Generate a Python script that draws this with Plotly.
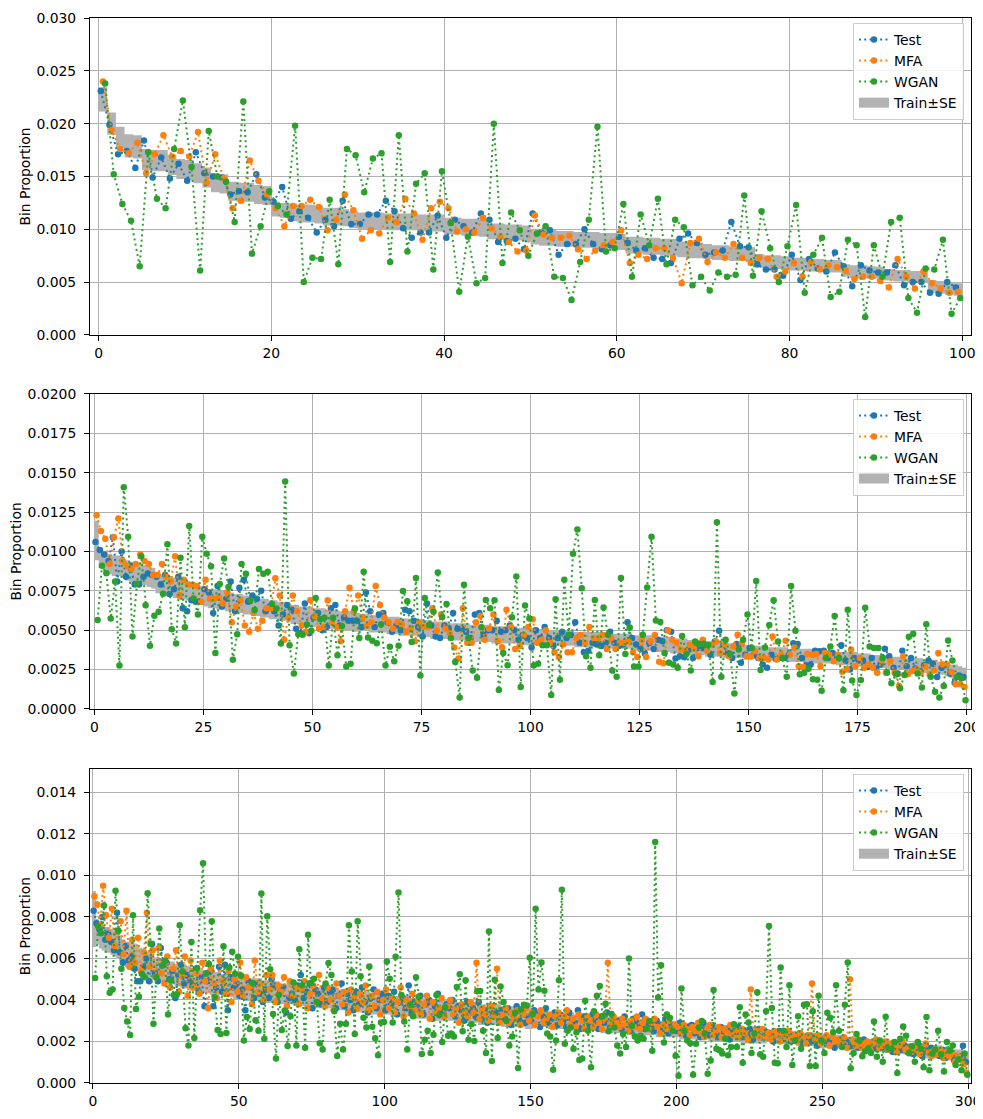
import plotly.graph_objects as go

SCALE = 1e-3  # all values below are in units of 1e-3

# ---------------- Panel 1 (100 bins) ----------------
train1 = [22.3, 20.0, 18.7, 17.9, 17.8, 16.6, 16.5, 16.5, 16.1, 15.7,
          15.6, 15.3, 14.9, 14.4, 14.3, 13.6, 13.5, 13.5, 13.3, 13.2,
          11.9, 11.8, 11.6, 11.5, 11.5, 11.4, 11.2, 11.2, 11.1, 10.9,
          10.8, 10.8, 10.8, 10.7, 10.7, 10.7, 10.7, 10.6, 10.6, 10.6,
          10.3, 10.3, 10.2, 10.2, 10.1, 9.8, 9.8, 9.7, 9.7, 9.6,
          9.3, 9.2, 9.2, 9.1, 9.1, 9.0, 9.0, 9.0, 8.9, 8.9,
          8.8, 8.5, 8.5, 8.4, 8.4, 8.3, 8.3, 8.1, 8.0, 8.0,
          7.9, 7.8, 7.8, 7.7, 7.7, 7.6, 7.0, 6.9, 6.9, 6.8,
          6.7, 6.7, 6.6, 6.6, 6.5, 6.5, 6.1, 6.0, 6.0, 5.9,
          5.9, 5.7, 5.6, 5.6, 5.5, 5.5, 4.6, 4.5, 4.4, 4.3]
se1 = [1.15, 1.05, 1.0, 1.1, 1.1, 1.0, 1.0, 1.0, 0.95, 0.95,
       0.95, 0.95, 0.95, 0.9, 0.9, 0.9, 0.9, 0.9, 0.9, 0.9,
       0.7, 0.7, 0.85, 0.85, 0.85, 0.85, 0.85, 0.85, 0.8, 0.8,
       0.8, 0.8, 0.8, 0.8, 0.8, 0.8, 0.8, 0.8, 0.8, 0.8,
       0.8, 0.8, 0.8, 0.8, 0.8, 0.75, 0.75, 0.75, 0.75, 0.75,
       0.75, 0.75, 0.75, 0.75, 0.75, 0.75, 0.75, 0.75, 0.75, 0.75,
       0.75, 0.8, 0.8, 0.8, 0.8, 0.8, 0.8, 0.75, 0.75, 0.75,
       0.7, 0.7, 0.7, 0.7, 0.7, 0.7, 0.65, 0.65, 0.65, 0.65,
       0.6, 0.6, 0.6, 0.6, 0.6, 0.6, 0.6, 0.6, 0.6, 0.6,
       0.55, 0.55, 0.55, 0.55, 0.55, 0.55, 0.6, 0.6, 0.6, 0.6]
test1 = [23.1, 19.9, 17.1, 17.4, 15.8, 18.4, 14.9, 16.8, 14.8, 16.2,
         14.6, 17.3, 15.3, 15.0, 14.9, 13.3, 13.6, 13.5, 15.2, 13.0,
         12.6, 14.0, 11.0, 11.7, 11.1, 9.7, 10.9, 10.3, 12.7, 10.5,
         10.5, 11.4, 11.4, 12.7, 11.7, 10.1, 9.2, 9.7, 9.7, 11.3,
         9.2, 10.9, 10.3, 9.7, 11.5, 10.9, 8.8, 8.9, 9.1, 8.1,
         11.5, 9.7, 9.9, 7.6, 8.6, 8.6, 10.0, 8.6, 8.1, 8.5,
         9.3, 8.7, 8.0, 8.2, 7.3, 7.2, 6.8, 9.1, 9.6, 8.7,
         7.6, 7.8, 8.0, 10.7, 8.4, 8.3, 6.7, 6.2, 6.2, 5.6,
         7.6, 5.2, 7.2, 6.3, 6.0, 7.8, 6.5, 4.6, 6.6, 6.1,
         5.9, 5.9, 6.6, 4.7, 5.0, 5.0, 4.0, 3.9, 5.0, 4.5]
mfa1 = [24.0, 19.4, 17.6, 17.2, 18.2, 15.3, 17.1, 18.9, 16.9, 17.4,
        16.9, 19.2, 14.4, 17.1, 14.8, 12.0, 12.7, 16.5, 14.6, 13.3,
        12.0, 10.3, 12.2, 12.2, 12.8, 12.1, 9.9, 10.9, 13.3, 11.8,
        9.1, 9.9, 9.6, 11.1, 10.7, 12.9, 11.5, 9.0, 12.0, 12.6,
        12.0, 9.8, 10.0, 9.7, 11.1, 10.1, 9.3, 8.8, 7.9, 8.0,
        11.3, 9.5, 9.2, 9.2, 9.4, 8.1, 7.2, 8.0, 8.5, 8.8,
        9.9, 6.8, 7.6, 7.2, 8.2, 8.2, 7.3, 4.9, 8.7, 9.1,
        6.9, 7.8, 7.3, 8.6, 7.3, 6.8, 7.3, 7.2, 5.5, 6.0,
        6.8, 5.5, 6.9, 6.2, 6.6, 6.4, 6.1, 5.3, 5.5, 5.5,
        5.1, 4.5, 7.2, 5.5, 4.4, 6.0, 4.9, 4.4, 4.0, 4.1]
wgan1 = [23.8, 15.2, 12.4, 10.8, 6.5, 17.3, 12.9, 12.0, 17.6, 22.2,
         15.9, 6.1, 19.3, 15.0, 14.5, 10.7, 22.1, 7.7, 10.3, 13.6,
         12.2, 11.4, 19.8, 5.0, 7.3, 7.2, 12.8, 6.7, 17.6, 17.0,
         13.5, 16.7, 17.2, 6.9, 18.9, 7.9, 14.3, 15.3, 6.2, 15.5,
         10.6, 4.1, 9.3, 4.9, 5.4, 20.0, 6.8, 11.6, 9.9, 7.5,
         9.6, 10.3, 5.5, 5.4, 3.3, 6.9, 10.9, 19.7, 7.9, 8.2,
         12.4, 5.5, 11.4, 8.5, 12.9, 6.7, 10.9, 10.2, 4.7, 5.5,
         4.2, 5.9, 5.5, 5.7, 13.2, 5.6, 11.7, 8.2, 5.0, 8.4,
         12.3, 4.0, 7.6, 9.2, 3.6, 4.1, 9.0, 8.5, 1.7, 8.5,
         5.5, 10.7, 11.1, 3.5, 2.1, 6.3, 6.2, 9.0, 2.0, 3.5]

# ---------------- Panel 2 (200 bins) ----------------
train2 = [10.7, 9.6, 9.4, 9.2, 9.1, 9.1, 9.0, 8.8, 8.7, 8.6,
          8.6, 8.5, 8.4, 8.3, 8.0, 7.9, 7.8, 7.8, 7.7, 7.6,
          7.6, 7.5, 7.4, 7.3, 7.2, 7.1, 7.0, 7.0, 6.9, 6.9,
          6.8, 6.8, 6.7, 6.7, 6.6, 6.6, 6.5, 6.5, 6.4, 6.4,
          6.3, 6.3, 6.2, 6.2, 6.1, 6.0, 6.0, 5.9, 5.9, 5.9,
          5.8, 5.8, 5.8, 5.7, 5.7, 5.7, 5.6, 5.6, 5.6, 5.5,
          5.5, 5.5, 5.5, 5.4, 5.4, 5.4, 5.4, 5.3, 5.3, 5.3,
          5.2, 5.2, 5.2, 5.2, 5.1, 5.1, 5.1, 5.0, 5.0, 5.0,
          5.0, 4.9, 4.9, 4.9, 4.9, 4.9, 4.8, 4.8, 4.8, 4.8,
          4.8, 4.7, 4.7, 4.7, 4.7, 4.7, 4.7, 4.6, 4.6, 4.6,
          4.6, 4.6, 4.6, 4.5, 4.5, 4.5, 4.5, 4.5, 4.5, 4.5,
          4.4, 4.4, 4.4, 4.4, 4.4, 4.4, 4.4, 4.3, 4.3, 4.3,
          4.3, 4.3, 4.3, 4.2, 4.2, 4.2, 4.2, 4.2, 4.1, 4.1,
          4.1, 4.1, 4.0, 4.0, 4.0, 4.0, 3.9, 3.9, 3.9, 3.9,
          3.8, 3.8, 3.8, 3.8, 3.7, 3.7, 3.7, 3.7, 3.7, 3.6,
          3.6, 3.6, 3.6, 3.6, 3.5, 3.5, 3.5, 3.5, 3.5, 3.4,
          3.4, 3.4, 3.4, 3.4, 3.4, 3.3, 3.3, 3.3, 3.3, 3.3,
          3.2, 3.2, 3.2, 3.2, 3.2, 3.1, 3.1, 3.1, 3.0, 3.0,
          3.0, 3.0, 2.9, 2.9, 2.9, 2.9, 2.8, 2.8, 2.8, 2.8,
          2.7, 2.7, 2.7, 2.6, 2.6, 2.5, 2.4, 2.4, 2.3, 2.2]
se2 = [1.25, 0.65, 0.65, 0.65, 0.65, 0.65, 0.65, 0.65, 0.65, 0.65,
       0.65, 0.65, 0.65, 0.65, 0.65, 0.65, 0.65, 0.65, 0.65, 0.65,
       0.65, 0.6, 0.6, 0.6, 0.6, 0.6, 0.6, 0.6, 0.6, 0.6,
       0.6, 0.6, 0.6, 0.6, 0.6, 0.6, 0.6, 0.6, 0.6, 0.6,
       0.6, 0.6, 0.6, 0.6, 0.6, 0.6, 0.6, 0.6, 0.6, 0.6,
       0.6, 0.6, 0.6, 0.6, 0.6, 0.6, 0.6, 0.6, 0.6, 0.6,
       0.6, 0.55, 0.55, 0.55, 0.55, 0.55, 0.55, 0.55, 0.55, 0.55,
       0.55, 0.55, 0.55, 0.55, 0.55, 0.55, 0.55, 0.55, 0.55, 0.55,
       0.55, 0.55, 0.55, 0.55, 0.55, 0.55, 0.55, 0.55, 0.55, 0.55,
       0.55, 0.55, 0.55, 0.55, 0.55, 0.55, 0.55, 0.55, 0.55, 0.55,
       0.55, 0.48, 0.48, 0.48, 0.48, 0.48, 0.48, 0.48, 0.48, 0.48,
       0.48, 0.48, 0.48, 0.48, 0.48, 0.48, 0.48, 0.48, 0.48, 0.48,
       0.48, 0.48, 0.48, 0.48, 0.48, 0.48, 0.48, 0.48, 0.48, 0.48,
       0.48, 0.48, 0.48, 0.48, 0.48, 0.48, 0.48, 0.48, 0.48, 0.48,
       0.48, 0.48, 0.48, 0.48, 0.48, 0.48, 0.48, 0.48, 0.48, 0.48,
       0.48, 0.42, 0.42, 0.42, 0.42, 0.42, 0.42, 0.42, 0.42, 0.42,
       0.42, 0.42, 0.42, 0.42, 0.42, 0.42, 0.42, 0.42, 0.42, 0.42,
       0.42, 0.42, 0.42, 0.42, 0.42, 0.42, 0.42, 0.42, 0.42, 0.42,
       0.42, 0.42, 0.42, 0.42, 0.42, 0.42, 0.42, 0.42, 0.42, 0.42,
       0.42, 0.42, 0.42, 0.42, 0.42, 0.42, 0.42, 0.42, 0.42, 0.42]
test2 = [10.6, 10.1, 9.8, 9.4, 10.9, 8.1, 10.0, 8.4, 9.1, 7.9,
         7.9, 8.4, 8.6, 8.5, 8.4, 7.9, 8.5, 7.3, 7.6, 8.4,
         6.4, 6.2, 6.9, 6.8, 6.8, 7.6, 7.4, 6.1, 7.8, 6.5,
         7.0, 8.1, 6.2, 7.7, 8.2, 6.8, 7.2, 7.0, 7.5, 6.2,
         6.5, 6.2, 5.3, 6.0, 6.6, 6.3, 5.1, 4.8, 6.7, 4.8,
         5.8, 6.1, 5.0, 5.2, 6.4, 6.6, 5.3, 5.8, 5.6, 5.6,
         5.6, 5.2, 7.4, 6.2, 5.2, 6.0, 6.1, 5.5,
         4.9, 5.3, 5.0, 6.3, 6.2, 5.6, 5.2, 4.6, 6.7, 5.3,
         4.6, 4.5, 5.3, 5.1, 6.1, 5.1, 5.1, 4.9, 4.5, 6.0,
         6.1, 4.7, 5.0, 5.0, 5.6, 4.9, 5.0, 5.3, 5.0, 4.4,
         4.7, 4.5, 3.9, 5.0, 4.5, 5.2, 4.5, 4.0, 4.5, 4.9,
         4.5, 4.7, 5.5, 4.2, 3.6, 3.7, 4.2, 4.1, 4.0, 4.2,
         4.9, 4.2, 4.0, 4.1, 5.5, 4.5, 4.1, 3.8, 3.5, 4.2,
         3.8, 4.4, 4.3, 5.0, 4.9, 3.2,
         3.35, 3.28, 3.77, 3.24, 3.87, 3.87, 3.81, 3.45, 4.29, 4.96,
         4.08, 3.56, 3.24, 4.12, 2.93, 3.45, 3.87, 3.45, 3.24, 2.82,
         2.62, 3.45, 3.18, 3.28, 3.24, 3.45, 4.18, 4.12, 3.24, 2.78,
         2.82, 3.70, 3.66, 3.70, 3.24, 3.56, 3.24, 4.04, 3.08, 2.51,
         3.24, 3.08, 3.08, 2.66, 3.24, 2.57, 2.82, 3.83, 3.35, 2.62,
         2.24, 3.70, 2.72, 3.24, 2.57, 2.41, 2.78, 3.08, 2.87, 2.03,
         2.62, 2.78, 2.24, 1.67, 2.13, 2.03]
mfa2 = [12.3, 11.3, 10.8, 9.2, 10.9, 12.1, 9.4, 9.1, 8.9, 9.2,
        9.8, 9.4, 9.2, 8.5, 8.5, 9.2, 8.4, 8.1, 9.7, 7.2,
        8.2, 7.9, 7.9, 7.8, 6.8, 8.2, 7.0, 7.0, 7.1, 6.7,
        7.4, 5.5, 6.5, 6.9, 5.3, 4.9, 6.1, 5.1, 5.6, 6.4,
        6.4, 8.3, 7.2, 4.4, 5.8, 7.2, 6.2, 5.3, 4.9, 6.9,
        5.9, 5.1, 5.2, 6.9, 5.5, 5.2, 4.3, 6.2, 7.7, 6.2,
        7.2, 5.8, 5.3, 5.5, 7.8, 6.6, 5.8, 5.5,
        5.1, 5.5, 5.4, 4.9, 5.1, 4.3, 5.5, 5.2, 5.2, 6.4,
        5.0, 6.0, 5.1, 4.8, 3.9, 3.2, 6.4, 4.2, 4.2, 5.5,
        5.9, 4.4, 5.1, 6.0, 4.3, 3.9, 6.3, 5.2, 3.8, 4.0,
        4.7, 5.2, 5.7, 4.2, 4.4, 5.0, 4.2, 3.6, 3.3, 4.1,
        3.6, 3.6, 4.5, 4.7, 4.2, 5.2, 4.5, 4.5, 4.7, 3.8,
        4.5, 3.8, 4.2, 4.2, 4.3, 3.6, 3.3, 4.4, 3.3, 4.3,
        4.7, 3.0, 2.9, 5.0, 4.4, 4.2,
        3.77, 3.70, 4.08, 3.83, 3.35, 4.39, 3.70, 4.08, 4.29, 3.56,
        4.12, 3.35, 3.97, 4.71, 4.18, 3.35, 3.35, 3.66, 3.24, 3.24,
        3.14, 4.60, 3.14, 3.45, 4.33, 3.45, 3.91, 2.72, 2.66, 3.49,
        3.45, 3.49, 2.72, 3.56, 3.45, 3.03, 3.45, 2.36, 2.51, 3.77,
        2.72, 3.24, 2.62, 2.82, 2.62, 2.30, 3.08, 2.30, 3.03, 2.30,
        1.46, 3.35, 2.20, 2.41, 2.51, 2.30, 2.72, 2.20, 2.45, 3.56,
        2.82, 2.82, 2.34, 1.57, 1.57, 1.40]
wgan2 = [5.65, 9.10, 8.62, 5.75, 8.10, 2.76, 14.08, 10.94, 4.60, 7.95,
         9.69, 6.59, 4.02, 5.92, 6.17, 7.32, 10.46, 5.06, 4.16, 9.60,
         5.19, 11.61, 7.01, 6.00, 10.94, 9.85, 9.06, 3.56, 7.93, 9.56,
         7.74, 3.12, 4.75, 9.21, 8.58, 6.88, 6.28, 8.89, 8.58, 8.72,
         6.67, 6.38, 4.16, 14.44, 4.04, 2.26, 4.75, 4.71, 5.36, 4.96,
         7.05, 5.69, 5.79, 2.76, 5.79, 3.41, 5.27, 2.70, 2.87, 6.38,
         4.50, 8.72, 4.54, 4.33, 4.18, 5.38, 2.76, 3.95,
         3.03, 4.02, 7.49, 6.84, 4.25, 8.31, 2.13, 7.05, 5.33, 6.17,
         8.66, 5.84, 6.67, 4.50, 2.99, 0.73, 7.89, 4.50, 2.45, 1.99,
         5.19, 6.92, 6.40, 6.90, 1.21, 3.56, 2.78, 5.82, 8.41, 1.40,
         6.57, 5.75, 2.76, 2.87, 4.04, 4.04, 0.88, 6.97, 1.86, 8.20,
         4.71, 9.85, 11.40, 7.66, 3.35, 2.62, 6.92, 3.41, 6.44, 4.71,
         2.45, 2.05, 8.31, 3.49, 5.17, 2.70, 2.70, 4.71, 7.72, 10.94,
         5.61, 5.52, 3.56, 2.93, 2.82, 2.62,
         4.64, 3.49, 2.45, 4.29, 4.12, 4.14, 4.08, 1.72, 11.86, 2.05,
         4.39, 3.49, 0.98, 3.77, 4.39, 6.00, 3.87, 8.12, 2.47, 3.91,
         5.33, 6.90, 4.29, 3.24, 2.05, 7.80, 4.96, 2.20, 2.30, 2.55,
         1.88, 1.86, 1.15, 3.24, 3.97, 5.90, 3.24, 1.19, 6.30, 1.80,
         0.88, 1.84, 6.42, 3.97, 3.87, 3.87, 3.24, 2.32, 1.63, 2.24,
         1.32, 2.15, 4.58, 4.77, 2.26, 1.36, 5.38, 2.05, 1.09, 0.73,
         1.46, 4.35, 3.08, 2.03, 1.95, 0.56]

# ---------------- Panel 3 (300 bins) ----------------
train3 = [7.9, 7.3, 7.1, 7.0, 6.9, 6.9, 6.8, 6.7, 6.6, 6.5,
          6.3, 6.2, 6.2, 6.1, 6.1, 6.0, 5.9, 5.8, 5.7, 5.7,
          5.6, 5.5, 5.5, 5.4, 5.4, 5.3, 5.3, 5.3, 5.2, 5.2,
          5.1, 5.1, 5.1, 5.0, 5.0, 5.0, 4.9, 4.9, 4.9, 4.9,
          4.8, 4.8, 4.8, 4.8, 4.7, 4.7, 4.7, 4.7, 4.6, 4.6,
          4.6, 4.6, 4.6, 4.5, 4.5, 4.5, 4.5, 4.5, 4.4, 4.4,
          4.4, 4.4, 4.4, 4.4, 4.3, 4.3, 4.3, 4.3, 4.3, 4.3,
          4.2, 4.2, 4.2, 4.2, 4.2, 4.2, 4.1, 4.1, 4.1, 4.1,
          4.1, 4.1, 4.0, 4.0, 4.0, 4.0, 4.0, 4.0, 3.9, 3.9,
          3.9, 3.9, 3.9, 3.9, 3.9, 3.8, 3.8, 3.8, 3.8, 3.8,
          3.8, 3.8, 3.7, 3.7, 3.7, 3.7, 3.7, 3.7, 3.7, 3.6,
          3.6, 3.6, 3.6, 3.6, 3.6, 3.6, 3.5, 3.5, 3.5, 3.5,
          3.5, 3.5, 3.5, 3.5, 3.4, 3.4, 3.4, 3.4, 3.4, 3.4,
          3.4, 3.4, 3.3, 3.3, 3.3, 3.3, 3.3, 3.3, 3.3, 3.3,
          3.2, 3.2, 3.2, 3.2, 3.2, 3.2, 3.2, 3.2, 3.1, 3.1,
          3.1, 3.1, 3.1, 3.1, 3.1, 3.1, 3.0, 3.0, 3.0, 3.0,
          3.0, 3.0, 3.0, 3.0, 3.0, 2.9, 2.9, 2.9, 2.9, 2.9,
          2.9, 2.9, 2.9, 2.9, 2.8, 2.8, 2.8, 2.8, 2.8, 2.8,
          2.8, 2.8, 2.8, 2.7, 2.7, 2.7, 2.7, 2.7, 2.7, 2.7,
          2.7, 2.7, 2.7, 2.6, 2.6, 2.6, 2.6, 2.6, 2.6, 2.6,
          2.6, 2.5, 2.5, 2.5, 2.5, 2.5, 2.5, 2.5, 2.5, 2.5,
          2.5, 2.4, 2.4, 2.4, 2.4, 2.4, 2.4, 2.4, 2.4, 2.4,
          2.4, 2.4, 2.3, 2.3, 2.3, 2.3, 2.3, 2.3, 2.3, 2.3,
          2.3, 2.3, 2.2, 2.2, 2.2, 2.2, 2.2, 2.2, 2.2, 2.2,
          2.2, 2.1, 2.1, 2.1, 2.1, 2.1, 2.1, 2.1, 2.1, 2.0,
          2.0, 2.0, 2.0, 2.0, 2.0, 2.0, 2.0, 1.9, 1.9, 1.9,
          1.9, 1.9, 1.9, 1.9, 1.9, 1.8, 1.8, 1.8, 1.8, 1.8,
          1.8, 1.8, 1.8, 1.7, 1.7, 1.7, 1.7, 1.7, 1.7, 1.6,
          1.6, 1.6, 1.6, 1.6, 1.6, 1.5, 1.5, 1.5, 1.5, 1.5,
          1.5, 1.4, 1.4, 1.4, 1.4, 1.3, 1.3, 1.3, 1.2, 1.2]
se3 = [1.35, 0.62, 0.62, 0.62, 0.62, 0.62, 0.62, 0.62, 0.62, 0.62,
       0.62, 0.62, 0.62, 0.62, 0.62, 0.62, 0.62, 0.62, 0.62, 0.62,
       0.62, 0.55, 0.55, 0.55, 0.55, 0.55, 0.55, 0.55, 0.55, 0.55,
       0.55, 0.55, 0.55, 0.55, 0.55, 0.55, 0.55, 0.55, 0.55, 0.55,
       0.55, 0.55, 0.55, 0.55, 0.55, 0.55, 0.55, 0.55, 0.55, 0.55,
       0.55, 0.55, 0.55, 0.55, 0.55, 0.55, 0.55, 0.55, 0.55, 0.55,
       0.55, 0.5, 0.5, 0.5, 0.5, 0.5, 0.5, 0.5, 0.5, 0.5,
       0.5, 0.5, 0.5, 0.5, 0.5, 0.5, 0.5, 0.5, 0.5, 0.5,
       0.5, 0.5, 0.5, 0.5, 0.5, 0.5, 0.5, 0.5, 0.5, 0.5,
       0.5, 0.5, 0.5, 0.5, 0.5, 0.5, 0.5, 0.5, 0.5, 0.5,
       0.5, 0.5, 0.5, 0.5, 0.5, 0.5, 0.5, 0.5, 0.5, 0.5,
       0.5, 0.5, 0.5, 0.5, 0.5, 0.5, 0.5, 0.5, 0.5, 0.5,
       0.5, 0.5, 0.5, 0.5, 0.5, 0.5, 0.5, 0.5, 0.5, 0.5,
       0.5, 0.5, 0.5, 0.5, 0.5, 0.5, 0.5, 0.5, 0.5, 0.5,
       0.5, 0.5, 0.5, 0.5, 0.5, 0.5, 0.5, 0.5, 0.5, 0.5,
       0.5, 0.4, 0.4, 0.4, 0.4, 0.4, 0.4, 0.4, 0.4, 0.4,
       0.4, 0.4, 0.4, 0.4, 0.4, 0.4, 0.4, 0.4, 0.4, 0.4,
       0.4, 0.4, 0.4, 0.4, 0.4, 0.4, 0.4, 0.4, 0.4, 0.4,
       0.4, 0.4, 0.4, 0.4, 0.4, 0.4, 0.4, 0.4, 0.4, 0.4,
       0.4, 0.4, 0.4, 0.4, 0.4, 0.4, 0.4, 0.4, 0.4, 0.4,
       0.4, 0.4, 0.4, 0.4, 0.4, 0.4, 0.4, 0.4, 0.4, 0.4,
       0.4, 0.4, 0.4, 0.4, 0.4, 0.4, 0.4, 0.4, 0.4, 0.4,
       0.4, 0.4, 0.4, 0.4, 0.4, 0.4, 0.4, 0.4, 0.4, 0.4,
       0.4, 0.32, 0.32, 0.32, 0.32, 0.32, 0.32, 0.32, 0.32, 0.32,
       0.32, 0.32, 0.32, 0.32, 0.32, 0.32, 0.32, 0.32, 0.32, 0.32,
       0.32, 0.32, 0.32, 0.32, 0.32, 0.32, 0.32, 0.32, 0.32, 0.32,
       0.32, 0.32, 0.32, 0.32, 0.32, 0.32, 0.32, 0.32, 0.32, 0.32,
       0.32, 0.32, 0.32, 0.32, 0.32, 0.32, 0.32, 0.32, 0.32, 0.32,
       0.32, 0.32, 0.32, 0.32, 0.32, 0.32, 0.32, 0.32, 0.32, 0.32,
       0.32, 0.32, 0.32, 0.32, 0.32, 0.32, 0.32, 0.32, 0.32, 0.32]
test3 = [8.3, 7.7, 7.4, 8.0, 6.9, 7.2, 6.8, 6.4, 8.2, 6.3,
         5.8, 6.6, 5.9, 6.1, 5.5, 4.9, 4.9, 5.6, 6.0, 4.9,
         6.7, 5.3, 4.9, 6.5, 5.7, 5.8, 5.0, 5.4, 4.1, 5.2,
         5.7, 4.8, 5.2, 4.9, 4.7, 5.5, 4.4, 5.1, 3.7, 4.9,
         5.4, 3.7, 4.6, 5.6, 4.4, 5.7, 3.5, 5.1, 4.6, 4.8,
         4.2, 4.5, 3.5, 4.9, 4.6, 4.1, 4.8, 4.3, 3.9, 4.5,
         4.1, 5.0, 4.7, 3.9, 4.4, 4.6, 3.4, 4.1, 4.3, 4.0,
         4.7, 5.2, 4.1, 4.4, 4.8, 3.6, 4.5, 4.3, 3.8, 4.6,
         3.9, 4.4, 4.5, 3.6, 4.2, 4.8, 3.7, 4.3, 4.0, 3.5,
         4.4, 3.8, 4.6, 3.9, 3.4, 4.1, 4.5, 3.6, 4.0, 4.3,
         3.5, 4.2, 3.8, 4.4, 3.3, 3.9, 4.1, 3.6, 4.7, 3.4,
         3.9, 3.6, 4.2, 3.3, 3.8, 4.0, 3.1, 3.7, 4.3, 3.5,
         3.3, 3.8, 3.6, 4.0, 3.2, 3.7, 3.5, 3.0, 3.9, 3.4,
         3.6, 3.2, 3.9, 3.1, 3.5, 2.9, 3.7, 3.3, 3.4, 3.0,
         3.5, 3.1, 3.6, 2.8, 3.3, 3.7, 3.0, 3.4, 2.9, 3.2,
         3.0, 3.5, 3.3, 2.7, 3.2, 3.6, 2.9, 3.1, 3.4, 2.8,
         3.3, 3.0, 2.7, 3.4, 3.1, 2.9, 3.5, 2.6, 3.2, 3.0,
         2.8, 3.3, 3.0, 2.6, 3.2, 2.9, 3.4, 2.7, 3.1, 2.8,
         3.0, 2.6, 3.2, 2.8, 2.5, 3.1, 2.9, 2.7, 3.3, 2.6,
         2.9, 2.7, 2.5, 3.0, 2.8, 2.6, 3.1, 2.4, 2.8, 2.7,
         2.5, 2.9, 2.6, 2.3, 2.7, 2.8, 2.4, 2.6, 2.2, 2.9,
         2.6, 2.3, 2.8, 2.5, 2.2, 2.7, 2.4, 2.6, 2.1, 2.5,
         2.4, 2.7, 2.2, 2.5, 2.3, 2.6, 2.1, 2.4, 2.6, 2.2,
         2.5, 2.2, 2.4, 2.0, 2.3, 2.5, 2.1, 2.3, 2.4, 2.0,
         2.3, 2.1, 2.4, 1.9, 2.2, 2.3, 2.0, 2.2, 1.8, 2.1,
         2.0, 2.2, 1.9, 2.1, 1.7, 2.0, 2.1, 1.8, 2.0, 1.9,
         1.8, 2.0, 1.7, 1.9, 2.1, 1.6, 1.8, 1.9, 1.7, 2.0,
         1.7, 1.9, 1.6, 1.8, 1.5, 1.7, 1.9, 1.6, 1.8, 1.5,
         1.7, 1.4, 1.6, 1.8, 1.3, 1.6, 1.5, 1.7, 1.4, 1.5,
         1.3, 1.6, 1.2, 1.5, 1.4, 1.1, 1.3, 1.2, 1.8, 1.0]
mfa3 = [9.0, 8.6, 7.6, 9.5, 8.1, 7.0, 8.4, 6.6, 7.3, 7.8,
        6.2, 8.3, 5.6, 6.9, 5.8, 7.0, 5.4, 6.3, 8.2, 5.6,
        6.4, 5.1, 6.5, 5.3, 4.8, 6.1, 4.6, 5.5, 6.4, 4.4,
        5.2, 6.1, 4.2, 5.9, 4.6, 5.3, 4.3, 5.8, 4.9, 3.6,
        5.5, 4.8, 4.1, 5.9, 4.9, 4.3, 5.4, 3.9, 5.0, 4.4,
        5.8, 4.2, 5.1, 4.6, 3.8, 5.9, 4.4, 4.8, 4.0, 5.2,
        4.5, 5.2, 3.9, 4.7, 4.4, 5.1, 3.7, 4.9, 4.2, 4.6,
        3.8, 4.5, 4.9, 3.6, 4.3, 4.7, 3.9, 5.2, 4.1, 3.7,
        4.6, 4.0, 3.5, 4.8, 4.2, 3.8, 4.4, 3.4, 4.5, 4.1,
        3.6, 4.3, 3.9, 4.7, 3.5, 4.2, 3.7, 4.4, 3.3, 4.0,
        4.5, 3.6, 4.1, 3.4, 3.9, 4.6, 3.2, 4.0, 3.7, 4.3,
        3.5, 4.0, 3.3, 3.8, 4.2, 3.1, 3.9, 3.4, 3.6, 4.1,
        3.2, 3.7, 4.0, 3.3, 3.6, 2.9, 3.8, 3.4, 3.2, 3.9,
        3.4, 5.8, 3.1, 3.6, 3.3, 3.0, 3.7, 3.2, 5.5, 2.9,
        3.3, 3.6, 2.9, 3.4, 3.1, 3.5, 2.8, 3.3, 3.6, 3.0,
        3.4, 2.8, 3.2, 3.5, 2.9, 3.1, 3.3, 2.7, 3.2, 3.4,
        2.9, 3.2, 3.5, 2.8, 3.1, 2.7, 3.3, 3.0, 2.6, 3.2,
        3.0, 2.7, 3.3, 2.9, 2.6, 3.1, 5.8, 2.8, 3.2, 2.9,
        2.7, 3.1, 2.8, 2.5, 3.0, 2.7, 3.2, 2.6, 2.9, 3.1,
        2.6, 2.9, 3.1, 2.7, 2.4, 2.8, 2.6, 3.0, 2.5, 2.8,
        2.7, 2.4, 2.8, 2.6, 2.3, 2.7, 2.5, 2.9, 2.4, 2.2,
        2.6, 2.8, 2.3, 2.5, 2.7, 2.2, 2.6, 2.4, 2.8, 2.3,
        2.5, 2.2, 2.6, 2.4, 2.1, 4.5, 2.3, 2.5, 2.2, 2.6,
        2.2, 2.4, 2.1, 2.5, 2.3, 2.0, 2.4, 2.2, 2.5, 2.1,
        2.3, 2.0, 2.4, 2.2, 1.9, 2.3, 4.8, 2.1, 2.3, 1.9,
        2.1, 2.3, 1.8, 2.2, 2.0, 2.1, 1.9, 2.2, 1.7, 5.0,
        2.0, 1.8, 2.1, 1.7, 1.9, 2.0, 1.6, 1.9, 2.1, 1.7,
        1.8, 2.0, 1.6, 1.9, 1.7, 1.5, 1.8, 2.0, 1.6, 1.7,
        1.5, 1.8, 1.6, 1.4, 1.7, 1.9, 1.5, 1.3, 1.6, 1.4,
        1.6, 1.2, 1.5, 1.3, 1.4, 1.0, 1.3, 1.1, 0.9, 0.5]
wgan3 = [5.06, 7.56, 7.22, 8.55, 5.15, 4.35, 4.51, 9.26, 7.34, 5.50,
         3.62, 2.96, 2.31, 8.08, 3.57, 4.16, 5.26, 5.10, 9.15, 6.72,
         2.86, 5.10, 7.45, 5.65, 5.89, 3.30, 4.95, 4.24, 4.27, 7.60,
         5.37, 2.64, 1.81, 6.80, 2.17, 5.54, 8.32, 10.59, 5.26, 5.73,
         7.80, 4.13, 2.55, 2.36, 6.59, 2.41, 5.57, 6.33, 5.26, 6.09,
         5.18, 2.05, 3.18, 2.60, 4.82, 3.02, 2.52, 9.13, 2.13, 8.03,
         5.48, 3.33, 1.18, 4.24, 2.55, 3.49, 1.78, 3.22, 4.84, 1.81,
         6.45, 4.71, 1.70, 7.14, 4.82,
         5.02, 3.90, 1.92, 1.61, 4.79, 5.78, 5.21, 3.46, 1.30, 2.86,
         1.61, 2.86, 7.60, 5.37, 2.36, 7.80, 5.15, 3.14, 2.67, 5.61,
         2.71, 2.16, 1.34, 2.91, 2.94, 5.86, 5.02, 2.91, 6.09, 9.18,
         4.24, 2.96, 1.61, 3.77, 3.22, 5.10, 4.16, 1.40, 2.08, 2.52,
         1.45, 2.33, 4.24, 3.27, 1.97, 3.65, 2.28, 2.39, 2.24, 4.63,
         5.24, 2.49, 4.95, 2.08, 2.83, 2.02, 4.43, 4.43, 2.52, 1.45,
         7.30, 1.06, 4.98, 2.17, 4.65, 3.90, 2.99, 1.81, 2.24, 3.38,
         0.72, 3.54, 3.77, 3.74, 6.04, 3.33, 8.40,
         4.50,
         5.81, 4.45, 2.39, 2.24, 0.64, 2.05, 4.95, 9.31, 1.89, 2.52,
         2.67, 1.65, 2.44, 1.11, 1.18, 3.96, 2.52, 0.76, 3.46, 4.20,
         4.67, 3.22, 3.82, 2.49, 3.33, 2.67, 1.81, 1.42, 2.36, 1.73,
         6.00, 2.75, 2.24, 2.05, 2.28, 2.13, 2.63, 2.99, 1.55, 11.61,
         4.12, 5.68, 1.95, 3.30, 3.14, 2.52, 1.31, 0.35, 4.55, 2.52,
         2.05, 1.92, 0.40, 1.89, 2.67, 2.99, 2.39, 0.45, 1.08, 4.48,
         1.65, 1.58, 1.42, 2.13, 1.34, 1.73, 2.83, 1.73, 3.65, 0.98,
         3.30, 2.91, 1.45, 2.39, 4.37, 1.39,
         1.26, 3.46, 7.56, 3.61, 0.98, 0.95, 5.57, 2.52, 1.73, 4.71,
         0.87, 2.05, 3.22, 1.65, 3.77, 3.80, 0.82, 3.46, 0.82, 4.20,
         2.05, 1.45, 3.38, 3.14, 2.44, 4.71, 2.52, 1.73, 3.77, 5.81,
         0.71, 1.45, 2.36, 2.05, 1.29, 1.53, 1.65, 1.45, 2.96, 1.26,
         2.05, 1.03, 3.19, 1.65, 1.65, 1.97, 0.48, 2.13, 2.72, 2.28,
         1.45, 1.77, 1.03, 1.97, 1.65, 0.76, 3.18, 0.61, 1.42, 1.61,
         2.52, 1.38, 0.56, 1.97, 1.55, 1.81, 0.87, 1.14, 0.61, 1.42,
         0.40]

series_names = ["Test", "MFA", "WGAN"]
series_colors = ["#1f77b4", "#ff7f0e", "#2ca02c"]
series_offsets = [0.25, 0.5, 0.75]
band_name = "Train±SE"
band_color = "rgb(178,178,178)"

FONT = "DejaVu Sans"
FS = 13.9

panels = [
    dict(train=train1, se=se1, series=[test1, mfa1, wgan1], n=100,
         ydom=[0.7024, 1.0], yrange=[0, 0.030], dtick=0.005, fmt=".3f",
         xticks=[0, 20, 40, 60, 80, 100]),
    dict(train=train2, se=se2, series=[test2, mfa2, wgan2], n=200,
         ydom=[0.3512, 0.6470], yrange=[0, 0.0200], dtick=0.0025, fmt=".4f",
         xticks=[0, 25, 50, 75, 100, 125, 150, 175, 200]),
    dict(train=train3, se=se3, series=[test3, mfa3, wgan3], n=300,
         ydom=[0.0, 0.2948], yrange=[0, 0.01513], dtick=0.002, fmt=".3f",
         xticks=[0, 50, 100, 150, 200, 250, 300]),
]

fig = go.Figure()
# figure sized to fit inside the page's default 8px body margin
layout = dict(
    width=975, height=1103,
    margin=dict(l=82, r=12, t=2, b=19),
    paper_bgcolor="white", plot_bgcolor="white",
    font=dict(family=FONT, size=FS, color="black"),
    showlegend=True,
)

for k, p in enumerate(panels, start=1):
    sfx = "" if k == 1 else str(k)
    xa, ya = "x" + sfx, "y" + sfx
    leg = "legend" + sfx
    n = len(p["train"])
    edges = list(range(n + 1))
    lo = [(t - s) * SCALE for t, s in zip(p["train"], p["se"])]
    hi = [(t + s) * SCALE for t, s in zip(p["train"], p["se"])]
    lo.append(lo[-1])
    hi.append(hi[-1])
    fig.add_trace(go.Scatter(x=edges, y=lo, mode="lines",
                             line=dict(width=0, shape="hv"),
                             showlegend=False, hoverinfo="skip",
                             xaxis=xa, yaxis=ya, legend=leg))
    fig.add_trace(go.Scatter(x=edges, y=hi, mode="lines",
                             line=dict(width=0, shape="hv"),
                             fill="tonexty", fillcolor=band_color,
                             showlegend=False, hoverinfo="skip",
                             xaxis=xa, yaxis=ya, legend=leg))
    for j, vals in enumerate(p["series"]):
        fig.add_trace(go.Scatter(
            x=[i + series_offsets[j] for i in range(len(vals))],
            y=[v * SCALE for v in vals],
            mode="lines+markers", name=series_names[j],
            line=dict(color=series_colors[j], width=2, dash="2px,3.3px"),
            marker=dict(color=series_colors[j], size=6.5),
            legendrank=j + 1, xaxis=xa, yaxis=ya, legend=leg))
    # legend swatch for the Train±SE band
    fig.add_trace(go.Scatter(x=[None], y=[None], mode="lines",
                             line=dict(color=band_color, width=11),
                             name=band_name, legendrank=4,
                             xaxis=xa, yaxis=ya, legend=leg))

    axis_common = dict(showgrid=True, gridcolor="#b0b0b0", gridwidth=1,
                       showline=True, mirror=True, linecolor="black",
                       linewidth=1, ticks="outside", ticklen=5,
                       tickcolor="black", tickwidth=1, zeroline=False,
                       tickfont=dict(family=FONT, size=FS, color="black"))
    layout["xaxis" + sfx] = dict(axis_common, domain=[0, 1], anchor=ya,
                                  range=[-1, p["n"] + 1],
                                  ticklabeloverflow="allow",
                                  tickmode="array", tickvals=p["xticks"])
    layout["yaxis" + sfx] = dict(axis_common, domain=p["ydom"], anchor=xa,
                                  range=p["yrange"], dtick=p["dtick"],
                                  tick0=0, tickformat=p["fmt"],
                                  ticklabelstandoff=5,
                                  title=dict(text="Bin Proportion", standoff=2,
                                             font=dict(family=FONT, size=FS)))
    layout[leg] = dict(x=0.992, xanchor="right",
                       y=p["ydom"][1] - 0.0046, yanchor="top",
                       bgcolor="rgba(255,255,255,0.85)",
                       bordercolor="#cccccc", borderwidth=1,
                       font=dict(family=FONT, size=FS, color="black"),
                       traceorder="normal")

fig.update_layout(**layout)
fig.write_html("out.html", config={"displayModeBar": False})
